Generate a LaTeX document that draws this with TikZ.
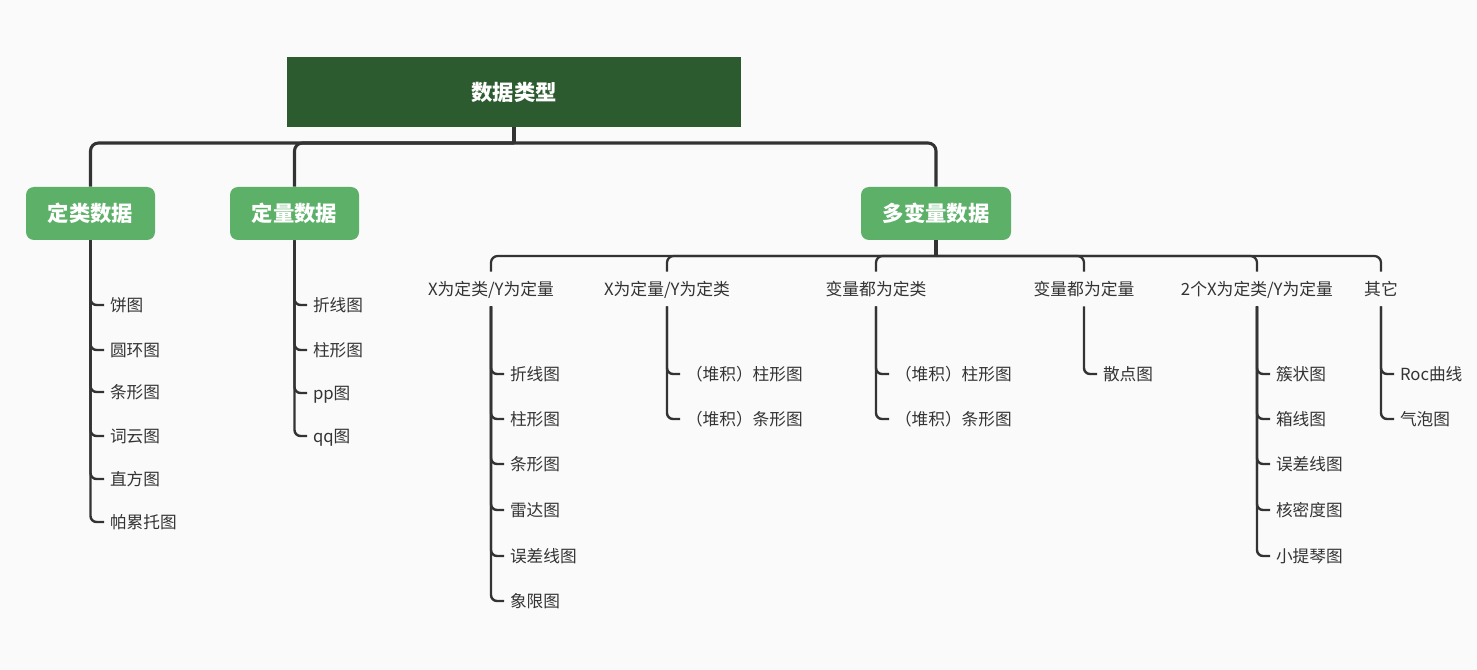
\documentclass[tikz,border=0pt]{standalone}
\usepackage{fontspec}
\setmainfont{Noto Sans CJK SC}
\definecolor{bg}{RGB}{250,250,250}
\definecolor{dkgreen}{RGB}{43,91,46}
\definecolor{ltgreen}{RGB}{92,176,104}
\definecolor{lc}{RGB}{51,51,51}
\definecolor{tc}{RGB}{51,51,51}
\begin{document}
\begin{tikzpicture}[x=0.75pt,y=-0.75pt,
  trunk/.style={draw=lc, line width=2.3pt, rounded corners=6pt},
  subline/.style={draw=lc, line width=1.7pt, rounded corners=5pt},
  twig/.style={draw=lc, line width=1.8pt, rounded corners=4.5pt},
  topbox/.style={fill=dkgreen, text=white, font=\fontsize{16}{18}\selectfont\bfseries,
    minimum width=340.5pt, minimum height=52.5pt, inner sep=0, text height=12.2pt, text depth=0pt},
  catbox/.style={fill=ltgreen, rounded corners=6pt, text=white, font=\fontsize{16}{18}\selectfont\bfseries,
    minimum height=39.75pt, inner sep=0, text height=12.2pt, text depth=0pt},
  grp/.style={text=tc, font=\fontsize{12.6}{14}\selectfont, minimum height=25.5pt, inner sep=0,
    text height=9.7pt, text depth=0pt},
  leaf/.style={anchor=west, text=tc, font=\fontsize{12.5}{14}\selectfont, inner sep=0, outer xsep=4.5pt,
    text height=9.4pt, text depth=0pt}
]
\path[fill=bg] (0,0) rectangle (1477,670);
\useasboundingbox (0,0) rectangle (1477,670);

% top level
\node[topbox] (top) at (514,92) {数据类型};
\node[catbox, minimum width=96.75pt] (c1) at (90.5,213.5) {定类数据};
\node[catbox, minimum width=96.75pt] (c2) at (294.5,213.5) {定量数据};
\node[catbox, minimum width=112.5pt] (c3) at (936,213.5) {多变量数据};

\coordinate (hub) at (514,143);
\draw[trunk] (top.south) -- (hub);
\draw[trunk] (hub) -| (c1.north);
\draw[trunk] (hub) -| (c2.north);
\draw[trunk] (hub) -| (c3.north);

% 定类数据 leaves
\foreach \t/\y [count=\i] in {饼图/305, 圆环图/350, 条形图/392, 词云图/436, 直方图/479, 帕累托图/522}{
  \node[leaf] (a\i) at (104,\y) {\t};
  \draw[twig] (c1.south) |- (a\i.west);
}
% 定量数据 leaves
\foreach \t/\y [count=\i] in {折线图/305, 柱形图/350, pp图/393, qq图/436}{
  \node[leaf] (b\i) at (307,\y) {\t};
  \draw[twig] (c2.south) |- (b\i.west);
}

% 多变量数据 groups
\node[grp] (g1) at (491,289) {X为定类/Y为定量};
\node[grp] (g2) at (667,289) {X为定量/Y为定类};
\node[grp] (g3) at (876,289) {变量都为定类};
\node[grp] (g4) at (1084,289) {变量都为定量};
\node[grp] (g5) at (1257,289) {2个X为定类/Y为定量};
\node[grp] (g6) at (1381,289) {其它};

\coordinate (hub2) at (936,256);
\draw[trunk] (c3.south) -- (hub2);
\foreach \g in {g1,g2,g3,g4,g5,g6}{
  \draw[subline] (hub2) -| (\g.north);
}

\foreach \t/\y [count=\i] in {折线图/374, 柱形图/419, 条形图/464, 雷达图/510, 误差线图/556, 象限图/601}{
  \node[leaf] (h\i) at (504,\y) {\t};
  \draw[twig] (g1.south) |- (h\i.west);
}
\foreach \t/\y [count=\i] in {（堆积）柱形图/374, （堆积）条形图/419}{
  \node[leaf] (k\i) at (680,\y) {\t};
  \draw[twig] (g2.south) |- (k\i.west);
}
\foreach \t/\y [count=\i] in {（堆积）柱形图/374, （堆积）条形图/419}{
  \node[leaf] (m\i) at (889,\y) {\t};
  \draw[twig] (g3.south) |- (m\i.west);
}
\node[leaf] (n1) at (1097,374) {散点图};
\draw[twig] (g4.south) |- (n1.west);
\foreach \t/\y [count=\i] in {簇状图/374, 箱线图/419, 误差线图/464, 核密度图/510, 小提琴图/556}{
  \node[leaf] (p\i) at (1270,\y) {\t};
  \draw[twig] (g5.south) |- (p\i.west);
}
\foreach \t/\y [count=\i] in {Roc曲线/374, 气泡图/419}{
  \node[leaf] (q\i) at (1394,\y) {\t};
  \draw[twig] (g6.south) |- (q\i.west);
}
\end{tikzpicture}
\end{document}
